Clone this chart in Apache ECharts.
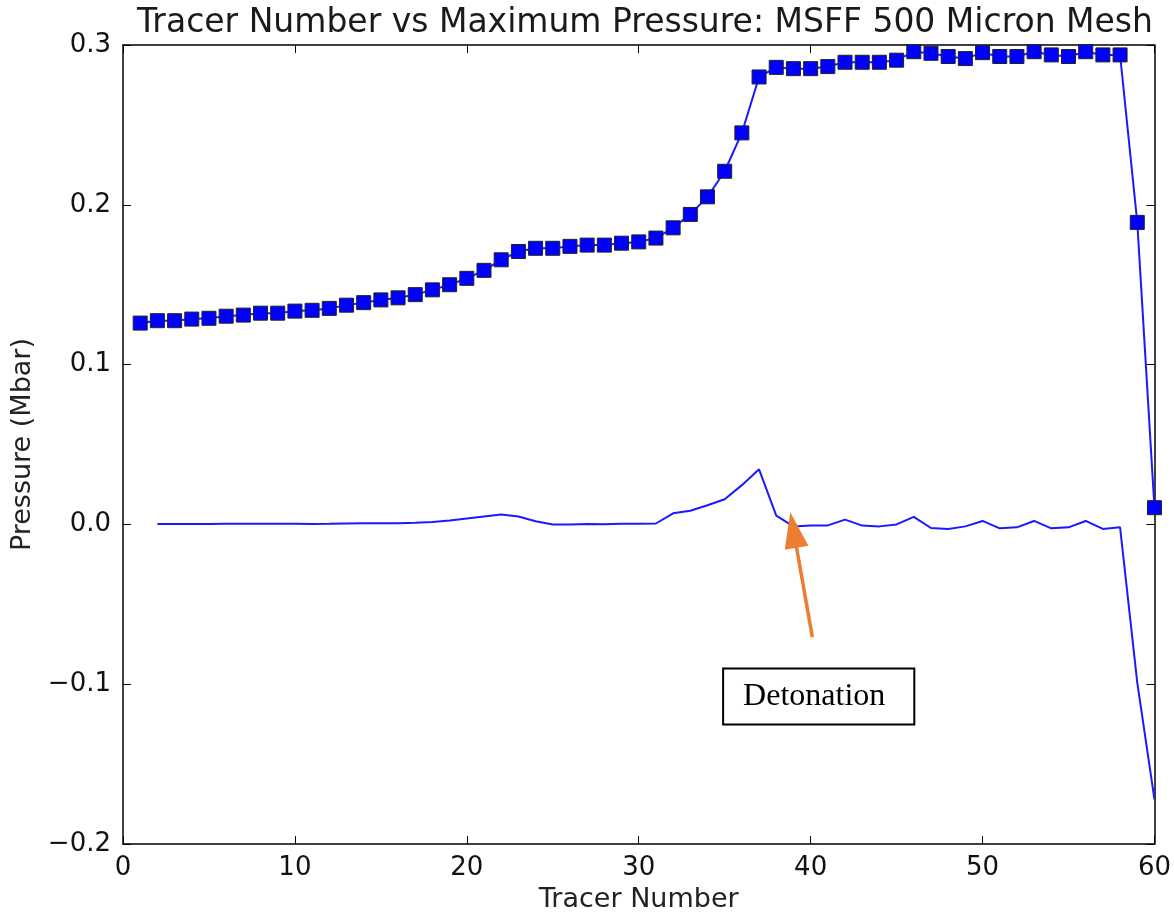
<!DOCTYPE html>
<html>
<head>
<meta charset="utf-8">
<script src="https://cdn.jsdelivr.net/npm/echarts@6/dist/echarts.min.js"></script>
<style>html,body{margin:0;padding:0;background:#fff}#c{width:1174px;height:918px}</style>
</head>
<body>
<div id="c"></div>
<script>
const titleText = 'Tracer Number vs Maximum Pressure: MSFF 500 Micron Mesh';
const xName = 'Tracer Number';
const yName = 'Pressure (Mbar)';
const xTicks = [0, 10, 20, 30, 40, 50, 60];
const yTicks = [-0.2, -0.1, 0.0, 0.1, 0.2, 0.3];

// Series 1: maximum pressure (square markers), tracers 1..60
const maxTracers = [1,2,3,4,5,6,7,8,9,10,11,12,13,14,15,16,17,18,19,20,21,22,23,24,25,26,27,28,29,30,31,32,33,34,35,36,37,38,39,40,41,42,43,44,45,46,47,48,49,50,51,52,53,54,55,56,57,58,59,60];
const maxPressure = [0.126,0.1275,0.1275,0.1285,0.129,0.1303,0.131,0.1322,0.1322,0.1335,0.134,0.1352,0.1372,0.1388,0.1405,0.1418,0.1438,0.1468,0.150,0.154,0.159,0.1656,0.1708,0.1728,0.1728,0.174,0.1748,0.1748,0.176,0.1768,0.1792,0.1856,0.194,0.205,0.221,0.245,0.280,0.286,0.2852,0.2852,0.2865,0.2892,0.2892,0.2892,0.2905,0.2958,0.2948,0.2928,0.2915,0.2952,0.2928,0.2928,0.2958,0.2938,0.2928,0.2958,0.2938,0.2938,0.189,0.0105];

// Series 2: second pressure curve (no markers), tracers 2..60
const curveTracers = [2,3,4,5,6,7,8,9,10,11,12,13,14,15,16,17,18,19,20,21,22,23,24,25,26,27,28,29,30,31,32,33,34,35,36,37,38,39,40,41,42,43,44,45,46,47,48,49,50,51,52,53,54,55,56,57,58,59,60];
const curvePressure = [0.0003,0.0003,0.0003,0.0003,0.0004,0.0004,0.0004,0.0004,0.0004,0.0003,0.0004,0.0006,0.0007,0.0008,0.0008,0.001,0.0015,0.0025,0.0038,0.005,0.0062,0.005,0.002,0.0,0.0,0.0003,0.0002,0.0004,0.0004,0.0006,0.007,0.0086,0.012,0.0158,0.0246,0.0345,0.0055,-0.0012,-0.0006,-0.0006,0.003,-0.0007,-0.0012,0.0,0.0048,-0.0022,-0.0028,-0.0012,0.0022,-0.0024,-0.0018,0.0022,-0.0024,-0.0018,0.0022,-0.0028,-0.0018,-0.099,-0.172];

// Annotation
const annoText = 'Detonation';
const arrowFrom = [40.1, -0.0705];
const arrowTo = [39.0, -0.0035];
const boxAt = [40.47, -0.1076];

const maxData = maxTracers.map((t, i) => [t, maxPressure[i]]);
const curveData = curveTracers.map((t, i) => [t, curvePressure[i]]);

const chart = echarts.init(document.getElementById('c'), null, {renderer: 'canvas'});
const font = 'DejaVu Sans';
const axisLineStyle = {color: '#000', width: 1.5};
const tickCommon = {show: true, inside: true, length: 8, lineStyle: {color: '#000', width: 1}};
const yFmt = v => {
  const r = Math.round(v * 10) / 10;
  const s = Math.abs(r).toFixed(1);
  return r < 0 ? '\u2212' + s : s;
};

chart.setOption({
  animation: false,
  backgroundColor: '#fff',
  title: {
    text: titleText,
    left: 640, top: 2, textAlign: 'center',
    textStyle: {fontFamily: font, fontSize: 33, fontWeight: 'normal', color: '#1a1a1a'}
  },
  grid: {left: 123, right: 19, top: 45, bottom: 73, containLabel: false},
  xAxis: [
    {
      type: 'value', min: 0, max: 60, interval: 10, position: 'bottom',
      name: xName, nameLocation: 'middle', nameGap: 40,
      nameTextStyle: {fontFamily: font, fontSize: 27, color: '#222'},
      axisLine: {show: true, onZero: false, lineStyle: axisLineStyle},
      axisTick: tickCommon,
      axisLabel: {fontFamily: font, fontSize: 26, color: '#111', margin: 11,
        formatter: v => xTicks.includes(v) ? String(v) : ''},
      splitLine: {show: false}
    },
    {
      type: 'value', min: 0, max: 60, interval: 10, position: 'top',
      axisLine: {show: true, onZero: false, lineStyle: axisLineStyle},
      axisTick: tickCommon,
      axisLabel: {show: false},
      splitLine: {show: false}
    }
  ],
  yAxis: [
    {
      type: 'value', min: -0.2, max: 0.3, interval: 0.1, position: 'left',
      name: yName, nameLocation: 'middle', nameGap: 81, nameRotate: 90,
      nameTextStyle: {fontFamily: font, fontSize: 27, color: '#222'},
      axisLine: {show: true, onZero: false, lineStyle: axisLineStyle},
      axisTick: tickCommon,
      axisLabel: {fontFamily: font, fontSize: 26, color: '#111', margin: 12, formatter: yFmt},
      splitLine: {show: false}
    },
    {
      type: 'value', min: -0.2, max: 0.3, interval: 0.1, position: 'right',
      axisLine: {show: true, onZero: false, lineStyle: axisLineStyle},
      axisTick: tickCommon,
      axisLabel: {show: false},
      splitLine: {show: false}
    }
  ],
  series: [
    {
      type: 'line', name: 'curve', data: curveData,
      xAxisIndex: 0, yAxisIndex: 0,
      showSymbol: false, symbol: 'none',
      lineStyle: {color: '#1a1aff', width: 2},
      z: 2,
      markLine: {
        silent: true,
        symbol: ['none', 'triangle'],
        symbolSize: [24, 36],
        label: {show: false},
        lineStyle: {color: '#ed7d31', width: 3.5, type: 'solid'},
        data: [[{coord: arrowFrom}, {coord: arrowTo}]]
      },
      markPoint: {
        silent: true,
        symbol: 'rect',
        symbolSize: 1,
        itemStyle: {color: 'rgba(0,0,0,0)'},
        label: {
          show: true, position: 'inside', formatter: annoText,
          fontFamily: 'Liberation Serif', fontSize: 32, lineHeight: 32, color: '#000',
          backgroundColor: '#fff', borderColor: '#000', borderWidth: 2,
          padding: [14, 28, 8, 19]
        },
        data: [{coord: boxAt}]
      }
    },
    {
      type: 'line', name: 'max', data: maxData,
      xAxisIndex: 0, yAxisIndex: 0,
      symbol: 'rect', symbolSize: 14, showAllSymbol: true,
      itemStyle: {color: '#0000ff', borderColor: '#222', borderWidth: 1},
      lineStyle: {color: '#1a1aff', width: 2},
      z: 3
    }
  ]
});
</script>
</body>
</html>
